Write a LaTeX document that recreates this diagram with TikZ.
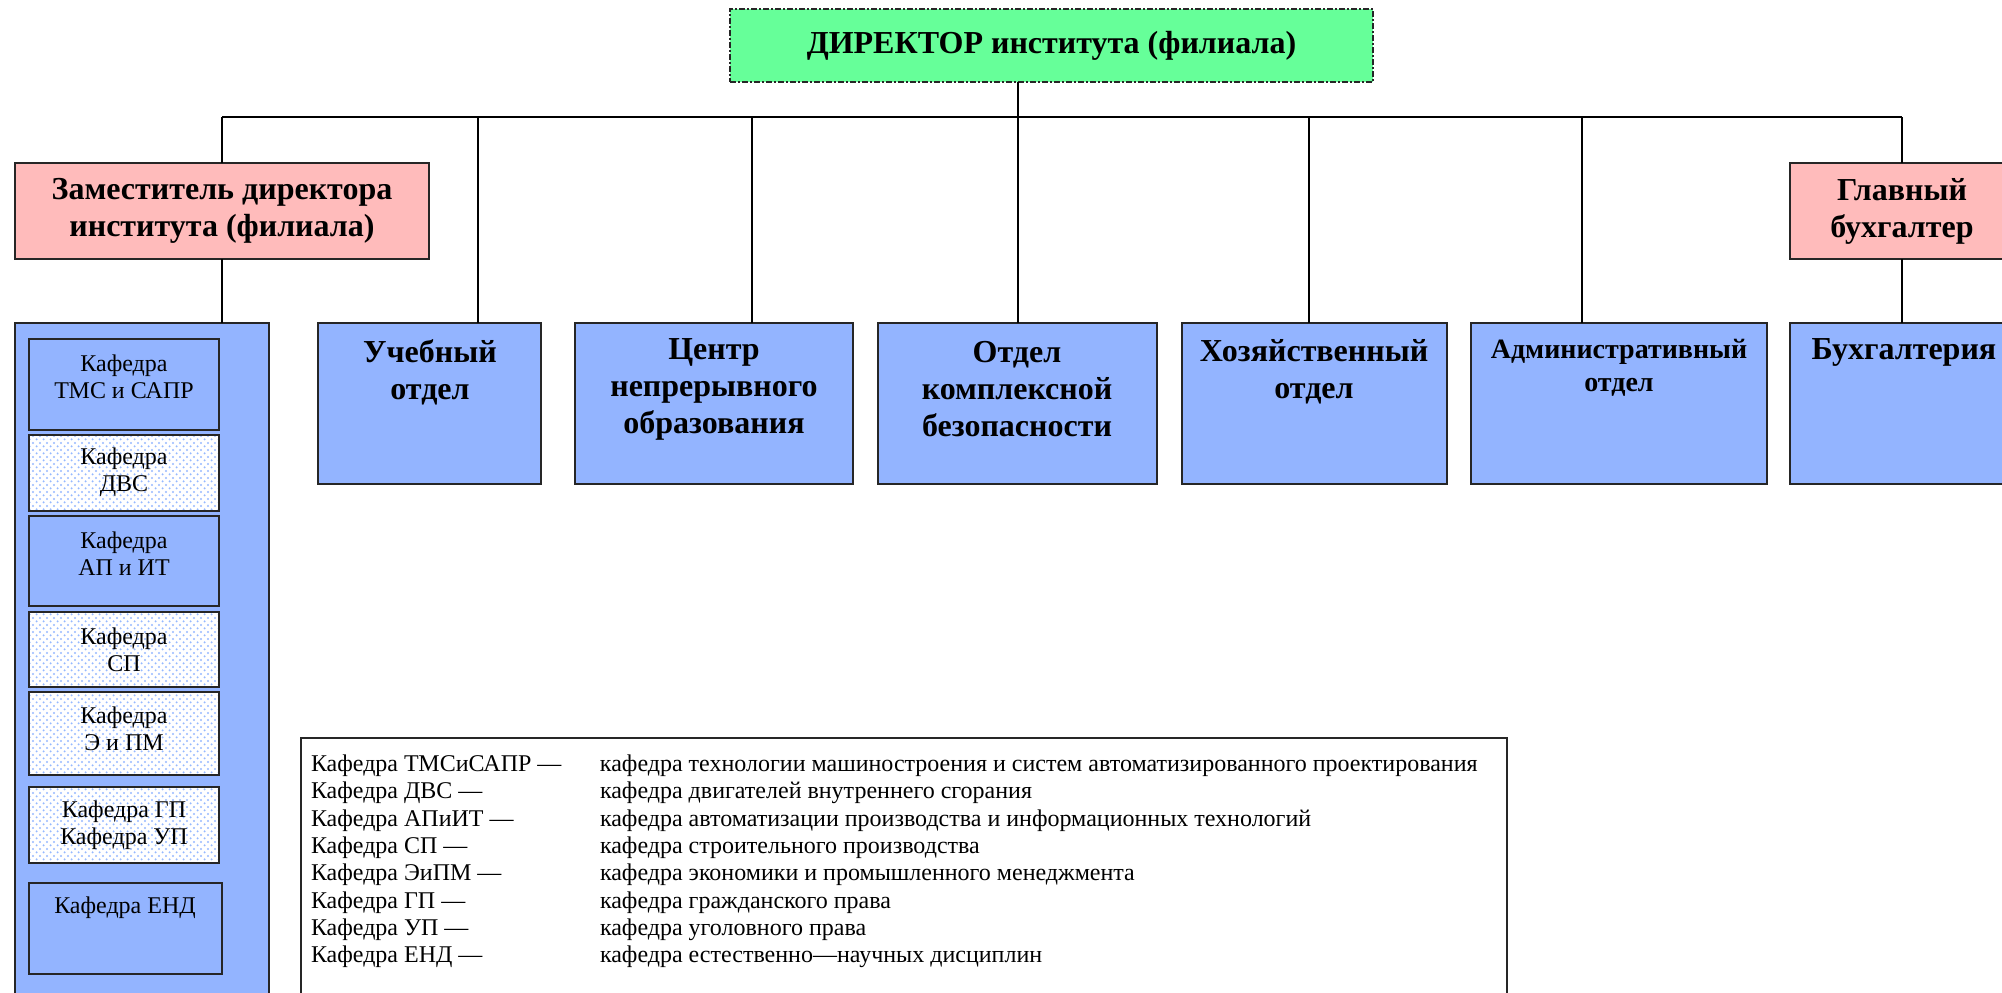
\documentclass[tikz,border=0pt]{standalone}
\usepackage{fontspec}
\setmainfont{Liberation Serif}
\usetikzlibrary{patterns.meta}
\definecolor{boxblue}{RGB}{147,180,255}
\definecolor{boxpink}{RGB}{255,187,187}
\definecolor{boxgreen}{RGB}{102,255,153}
\definecolor{dotblue}{RGB}{150,185,255}
\tikzdeclarepattern{name=bluedots, type=uncolored,
  bounding box={(0pt,0pt) and (3.65pt,3.65pt)},
  tile size={(3.65pt,3.65pt)},
  code={\fill (0.9pt,0.9pt) circle (0.6pt); \fill (2.725pt,2.725pt) circle (0.6pt);}}
\begin{document}
\begin{tikzpicture}[x=0.5pt,y=-0.5pt,
  every node/.style={inner sep=0pt,outer sep=0pt},
  box/.style={draw=black!85, line width=0.75pt, anchor=north west},
  bluebox/.style={box, fill=boxblue},
  pinkbox/.style={box, fill=boxpink, align=center, font=\fontsize{16}{18.5}\selectfont\bfseries},
  dotbox/.style={box, preaction={fill=white}, pattern=bluedots, pattern color=dotblue},
  depttext/.style={align=center, font=\fontsize{16}{18.5}\selectfont\bfseries},
  kaftext/.style={align=center, font=\fontsize{12}{13.5}\selectfont},
  conn/.style={draw=black, line width=1pt}
]
\useasboundingbox (0,0) rectangle (2002,992);

% director
\node[box, fill=boxgreen, dash pattern=on 3pt off 1pt on 1pt off 1pt,
  minimum width=321.5pt, minimum height=36.5pt,
  font=\fontsize{16}{19}\selectfont\bfseries] (dir) at (730,9) {ДИРЕКТОР института (филиала)};

% second level
\node[pinkbox, minimum width=207pt, minimum height=48pt] (dep) at (15,163) {Заместитель директора\\института (филиала)};
\node[pinkbox, minimum width=112pt, minimum height=48pt] (glav) at (1790,163) {Главный\\бухгалтер};

% departments
\node[bluebox, minimum width=127pt, minimum height=340pt] (cont) at (15,323) {};
\node[bluebox, minimum width=111.5pt, minimum height=80.5pt] (ucheb) at (318,323) {};
\node[bluebox, minimum width=139pt, minimum height=80.5pt] (centr) at (575,323) {};
\node[bluebox, minimum width=139.5pt, minimum height=80.5pt] (otdel) at (878,323) {};
\node[bluebox, minimum width=132.5pt, minimum height=80.5pt] (hoz) at (1182,323) {};
\node[bluebox, minimum width=148pt, minimum height=80.5pt] (adm) at (1471,323) {};
\node[bluebox, minimum width=112pt, minimum height=80.5pt] (buh) at (1790,323) {};

\node[depttext] (uchebT) at (430,372) {Учебный\\отдел};
\node[depttext] (centrT) at (714,389) {Центр\\непрерывного\\образования};
\node[depttext] (otdelT) at (1017,389) {Отдел\\комплексной\\безопасности};
\node[depttext] (hozT) at (1314,372) {Хозяйственный\\отдел};
\node[depttext, font=\fontsize{14}{16.5}\selectfont\bfseries] (admT) at (1619,368) {Административный\\отдел};
\node[depttext] (buhT) at (1904,352) {Бухгалтерия};

% kafedry
\node[bluebox, minimum width=95pt, minimum height=45.5pt] (k1) at (29,339) {};
\node[dotbox, minimum width=95pt, minimum height=38pt] (k2) at (29,435) {};
\node[bluebox, minimum width=95pt, minimum height=45pt] (k3) at (29,516) {};
\node[dotbox, minimum width=95pt, minimum height=37.5pt] (k4) at (29,612) {};
\node[dotbox, minimum width=95pt, minimum height=41.5pt] (k5) at (29,692) {};
\node[dotbox, minimum width=95pt, minimum height=38pt] (k6) at (29,787) {};
\node[bluebox, minimum width=96.5pt, minimum height=45.5pt] (k7) at (29,883) {};

\node[kaftext] (k1T) at (124,377) {Кафедра\\ТМС и САПР};
\node[kaftext] (k2T) at (124,472) {Кафедра\\ДВС};
\node[kaftext] (k3T) at (124,554) {Кафедра\\АП и ИТ};
\node[kaftext] (k4T) at (124,650) {Кафедра\\СП};
\node[kaftext] (k5T) at (124,729) {Кафедра\\Э и ПМ};
\node[kaftext] (k6T) at (124,825) {Кафедра ГП\\Кафедра УП};
\node[kaftext] (k7T) at (125,908) {Кафедра ЕНД};

% legend
\node[box, fill=white, minimum width=603pt, minimum height=131pt] (leg) at (301,738) {};
\node[anchor=north west, align=left, font=\fontsize{12}{13.65}\selectfont] (legT) at (311,755) {%
\makebox[144.5pt][l]{Кафедра ТМСиСАПР —}кафедра технологии машиностроения и систем автоматизированного проектирования\\
\makebox[144.5pt][l]{Кафедра ДВС —}кафедра двигателей внутреннего сгорания\\
\makebox[144.5pt][l]{Кафедра АПиИТ —}кафедра автоматизации производства и информационных технологий\\
\makebox[144.5pt][l]{Кафедра СП —}кафедра строительного производства\\
\makebox[144.5pt][l]{Кафедра ЭиПМ —}кафедра экономики и промышленного менеджмента\\
\makebox[144.5pt][l]{Кафедра ГП —}кафедра гражданского права\\
\makebox[144.5pt][l]{Кафедра УП —}кафедра уголовного права\\
\makebox[144.5pt][l]{Кафедра ЕНД —}кафедра естественно—научных дисциплин};

% connectors
\coordinate (bL) at (222,117);
\coordinate (bR) at (1902,117);
\coordinate (bD) at (1018,117);
\coordinate (bU) at (478,117);
\coordinate (bC) at (752,117);
\coordinate (bH) at (1309,117);
\coordinate (bA) at (1582,117);
\draw[conn] (bL) -- (bR);
\draw[conn] (dir.south -| bD) -- (bD);
\draw[conn] (bL) -- (bL |- dep.north);
\draw[conn] (bR) -- (bR |- glav.north);
\draw[conn] (bU) -- (bU |- ucheb.north);
\draw[conn] (bC) -- (bC |- centr.north);
\draw[conn] (bD) -- (bD |- otdel.north);
\draw[conn] (bH) -- (bH |- hoz.north);
\draw[conn] (bA) -- (bA |- adm.north);
\draw[conn] (dep.south) -- (dep.south |- cont.north);
\draw[conn] (glav.south) -- (glav.south |- buh.north);
\end{tikzpicture}
\end{document}
